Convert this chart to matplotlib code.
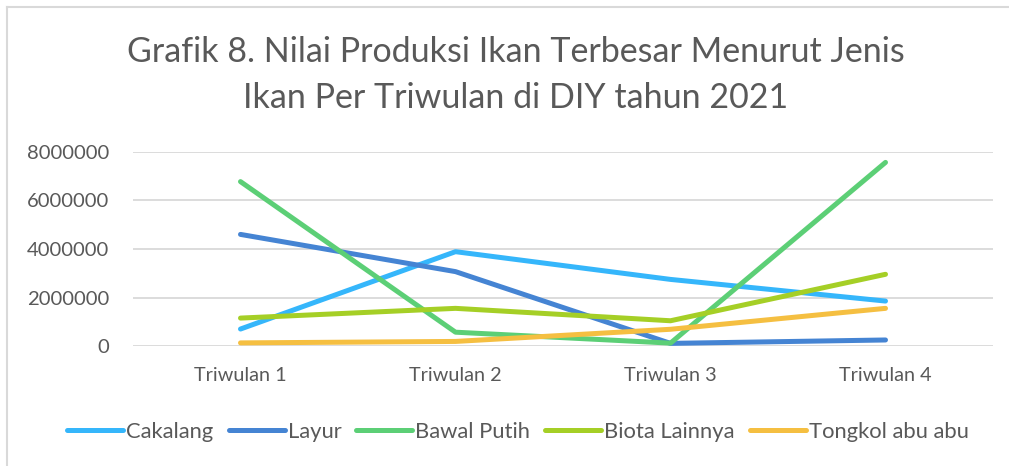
import matplotlib
matplotlib.use("Agg")
import matplotlib.pyplot as plt
from matplotlib.lines import Line2D

# Data
quarters = ['Triwulan 1', 'Triwulan 2', 'Triwulan 3', 'Triwulan 4']
cakalang = [710000, 3890000, 2750000, 1860000]
layur = [4600000, 3070000, 120000, 260000]
bawal_putih = [6770000, 580000, 130000, 7560000]
biota_lainnya = [1160000, 1560000, 1050000, 2960000]
tongkol = [140000, 200000, 700000, 1560000]

series = [
    ('Cakalang', cakalang, '#35B6FB'),
    ('Layur', layur, '#4584D3'),
    ('Bawal Putih', bawal_putih, '#5CCF76'),
    ('Biota Lainnya', biota_lainnya, '#A5CF26'),
    ('Tongkol abu abu', tongkol, '#F5BF41'),
]
yticks = [0, 2000000, 4000000, 6000000, 8000000]

plt.rcParams['font.family'] = ['Lato', 'DejaVu Sans']

W, H = 1009, 466
fig = plt.figure(figsize=(W / 100, H / 100), dpi=100)

# plot area in pixels: x 133..993, y 151.7..346.3
ax = fig.add_axes([133 / W, 1 - 346.3 / H, 860 / W, 194.6 / H])

x = list(range(len(quarters)))
handles = []
for name, vals, col in series:
    ln, = ax.plot(x, vals, color=col, lw=3.6, solid_capstyle='round',
                  solid_joinstyle='round', clip_on=False, label=name)
    handles.append(ln)

ax.set_xlim(-0.5, 3.5)
ax.set_ylim(0, 8000000)
ax.set_yticks(yticks)
ax.set_yticklabels([str(v) for v in yticks])
ax.set_xticks(x)
ax.set_xticklabels(quarters)
ax.grid(axis='y', color='#D9D9D9', lw=1.3)
ax.set_axisbelow(True)
for s in ax.spines.values():
    s.set_visible(False)
ax.tick_params(length=0, colors='#595959')
ax.tick_params(axis='y', pad=17, labelsize=14.6)
ax.tick_params(axis='x', pad=15, labelsize=14.3)

fig.text(516 / W, 1 - 52 / H, 'Grafik 8. Nilai Produksi Ikan Terbesar Menurut Jenis',
         ha='center', va='center', fontsize=24.5, color='#595959')
fig.text(516 / W, 1 - 98 / H, 'Ikan Per Triwulan di DIY tahun 2021',
         ha='center', va='center', fontsize=24.5, color='#595959')

leg = fig.legend(handles=handles, loc='center', bbox_to_anchor=(518 / W, 1 - 432 / H),
                 ncol=5, frameon=False, handlelength=2.55, handletextpad=0.14,
                 columnspacing=0.68, fontsize=15.8, borderpad=0, borderaxespad=0)
for t in leg.get_texts():
    t.set_color('#595959')

# chart border (top and left edges visible)
fig.add_artist(Line2D([7 / W, 1], [1 - 6.5 / H, 1 - 6.5 / H], color='#D9D9D9', lw=1.5))
fig.add_artist(Line2D([7 / W, 7 / W], [0, 1 - 6.5 / H], color='#D9D9D9', lw=1.5))

fig.savefig('out.png', dpi=100, facecolor='white')
